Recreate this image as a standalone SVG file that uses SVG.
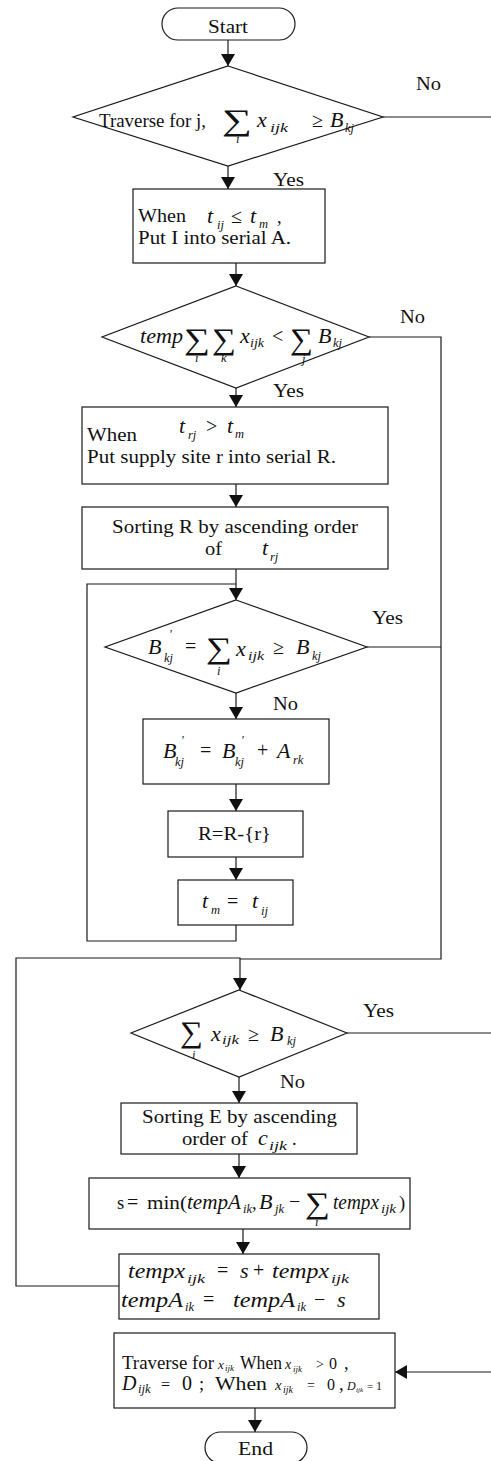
<svg xmlns="http://www.w3.org/2000/svg" width="491" height="1461" viewBox="0 0 491 1461">
  <defs>
    <marker id="ah" viewBox="0 0 12 14" refX="12" refY="7" markerWidth="12" markerHeight="14" markerUnits="userSpaceOnUse" orient="auto">
      <path d="M0,0 L12,7 L0,14 z" fill="#111"/>
    </marker>
    <style>
      .box{fill:#fff;stroke:#1a1a1a;stroke-width:1.2}
      .ln{fill:none;stroke:#1a1a1a;stroke-width:1.2}
      text{font-family:"Liberation Serif","Times New Roman",serif;fill:#111}
      .t{font-size:18.5px}
      .m{font-size:22px;font-style:italic}
      .s{font-size:12.5px;font-style:italic}
      .op{font-size:20px}
      .sum{font-size:30px}
    </style>
  </defs>
  <rect width="491" height="1461" fill="#fff"/>

  <!-- connectors -->
  <g id="connectors" class="ln">
    <line x1="228" y1="40" x2="228" y2="66" marker-end="url(#ah)"/>
    <line x1="383" y1="117" x2="491" y2="117"/>
    <line x1="228" y1="166" x2="228" y2="189" marker-end="url(#ah)"/>
    <line x1="236" y1="263" x2="236" y2="286" marker-end="url(#ah)"/>
    <polyline points="369,337 441,337 441,959 240,959"/>
    <line x1="236" y1="388" x2="236" y2="407" marker-end="url(#ah)"/>
    <line x1="236" y1="484" x2="236" y2="507" marker-end="url(#ah)"/>
    <line x1="236" y1="569" x2="236" y2="600" marker-end="url(#ah)"/>
    <polyline points="236,925 236,941 87,941 87,584 236,584"/>
    <line x1="367" y1="647" x2="441" y2="647"/>
    <line x1="236" y1="693" x2="236" y2="719" marker-end="url(#ah)"/>
    <line x1="236" y1="784" x2="236" y2="811" marker-end="url(#ah)"/>
    <line x1="236" y1="857" x2="236" y2="880" marker-end="url(#ah)"/>
    <polyline points="119,1286 16,1286 16,958 240,958 240,990" marker-end="url(#ah)"/>
    <line x1="347" y1="1033" x2="491" y2="1033"/>
    <line x1="239" y1="1077" x2="239" y2="1103" marker-end="url(#ah)"/>
    <line x1="239" y1="1154" x2="239" y2="1178" marker-end="url(#ah)"/>
    <line x1="243" y1="1229" x2="243" y2="1254" marker-end="url(#ah)"/>
    <line x1="491" y1="1372" x2="395" y2="1372" marker-end="url(#ah)"/>
    <line x1="255" y1="1408" x2="255" y2="1432" marker-end="url(#ah)"/>
    <g stroke="none">
      <text class="t" x="416" y="90" textLength="25" lengthAdjust="spacingAndGlyphs">No</text>
      <text class="t" x="273" y="186" textLength="31" lengthAdjust="spacingAndGlyphs">Yes</text>
      <text class="t" x="400" y="323" textLength="25" lengthAdjust="spacingAndGlyphs">No</text>
      <text class="t" x="273" y="397" textLength="31" lengthAdjust="spacingAndGlyphs">Yes</text>
      <text class="t" x="372" y="624" textLength="31" lengthAdjust="spacingAndGlyphs">Yes</text>
      <text class="t" x="273" y="710" textLength="25" lengthAdjust="spacingAndGlyphs">No</text>
      <text class="t" x="363" y="1017" textLength="31" lengthAdjust="spacingAndGlyphs">Yes</text>
      <text class="t" x="280" y="1088" textLength="25" lengthAdjust="spacingAndGlyphs">No</text>
    </g>
  </g>

  <!-- start -->
  <g id="start">
    <rect class="box" x="162" y="8" width="133" height="32" rx="16"/>
    <text class="t" x="208" y="33" textLength="40" lengthAdjust="spacingAndGlyphs">Start</text>
  </g>

  <!-- demand check for every j -->
  <g id="check_demand">
    <polygon class="box" points="228,66 383,117 228,166 73,117"/>
    <text class="t" x="99" y="127" textLength="107" lengthAdjust="spacingAndGlyphs">Traverse for j,</text>
    <text class="sum" x="222" y="130" textLength="30" lengthAdjust="spacingAndGlyphs">∑</text>
    <text class="s" x="236" y="143">i</text>
    <text class="m" x="257" y="127">x</text>
    <text class="s" x="270" y="132" textLength="18" lengthAdjust="spacingAndGlyphs">ijk</text>
    <text class="op" x="312" y="127">≥</text>
    <text class="m" x="330" y="127">B</text>
    <text class="s" x="345" y="132">kj</text>
  </g>

  <!-- serial A -->
  <g id="serial_a">
    <rect class="box" x="133" y="189" width="192" height="74"/>
    <text class="t" x="138" y="222" textLength="48" lengthAdjust="spacingAndGlyphs">When</text>
    <text class="m" x="207" y="223">t</text>
    <text class="s" x="217" y="229">ij</text>
    <text class="op" x="231" y="223">≤</text>
    <text class="m" x="250" y="223">t</text>
    <text class="s" x="259" y="228">m</text>
    <text class="t" x="277" y="223">,</text>
    <text class="t" x="138" y="244" textLength="153" lengthAdjust="spacingAndGlyphs">Put I into serial A.</text>
  </g>

  <!-- total supply check -->
  <g id="check_total">
    <polygon class="box" points="236,286 369,337 236,388 102,337"/>
    <text class="m" x="140" y="343" textLength="43" lengthAdjust="spacingAndGlyphs">temp</text>
    <text class="sum" x="184" y="349" textLength="26" lengthAdjust="spacingAndGlyphs">∑</text>
    <text class="s" x="195" y="362">i</text>
    <text class="sum" x="212" y="349" textLength="24" lengthAdjust="spacingAndGlyphs">∑</text>
    <text class="s" x="221" y="362">k</text>
    <text class="m" x="240" y="343">x</text>
    <text class="s" x="250" y="347" textLength="14" lengthAdjust="spacingAndGlyphs">ijk</text>
    <text class="op" x="272" y="343">&lt;</text>
    <text class="sum" x="290" y="349" textLength="23" lengthAdjust="spacingAndGlyphs">∑</text>
    <text class="s" x="302" y="363">j</text>
    <text class="m" x="318" y="343">B</text>
    <text class="s" x="333" y="347">kj</text>
  </g>

  <!-- serial R -->
  <g id="serial_r">
    <rect class="box" x="82" y="407" width="306" height="77"/>
    <text class="t" x="87" y="441" textLength="50" lengthAdjust="spacingAndGlyphs">When</text>
    <text class="m" x="179" y="433">t</text>
    <text class="s" x="188" y="439">rj</text>
    <text class="op" x="206" y="433">&gt;</text>
    <text class="m" x="227" y="433">t</text>
    <text class="s" x="235" y="438">m</text>
    <text class="t" x="87" y="463" textLength="249" lengthAdjust="spacingAndGlyphs">Put supply site r into serial R.</text>
  </g>

  <!-- sort R -->
  <g id="sort_r">
    <rect class="box" x="82" y="507" width="306" height="62"/>
    <text class="t" x="112" y="533" textLength="246" lengthAdjust="spacingAndGlyphs">Sorting R by ascending order</text>
    <text class="t" x="205" y="555" textLength="17" lengthAdjust="spacingAndGlyphs">of</text>
    <text class="m" x="262" y="555">t</text>
    <text class="s" x="270" y="561">rj</text>
  </g>

  <!-- B' check -->
  <g id="check_b">
    <polygon class="box" points="236,600 367,647 236,693 105,647"/>
    <text class="m" x="148" y="654">B</text>
    <text class="s" x="169" y="638">'</text>
    <text class="s" x="164" y="662">kj</text>
    <text class="op" x="185" y="653">=</text>
    <text class="sum" x="206" y="658" textLength="26" lengthAdjust="spacingAndGlyphs">∑</text>
    <text class="s" x="217" y="675">i</text>
    <text class="m" x="236" y="656">x</text>
    <text class="s" x="248" y="660" textLength="16" lengthAdjust="spacingAndGlyphs">ijk</text>
    <text class="op" x="273" y="654">≥</text>
    <text class="m" x="296" y="654">B</text>
    <text class="s" x="312" y="660">kj</text>
  </g>

  <!-- B' update -->
  <g id="update_b">
    <rect class="box" x="143" y="719" width="186" height="65"/>
    <text class="m" x="163" y="758">B</text>
    <text class="s" x="181" y="744">'</text>
    <text class="s" x="175" y="766">kj</text>
    <text class="op" x="200" y="757">=</text>
    <text class="m" x="222" y="758">B</text>
    <text class="s" x="241" y="744">'</text>
    <text class="s" x="235" y="766">kj</text>
    <text class="op" x="257" y="757">+</text>
    <text class="m" x="277" y="758">A</text>
    <text class="s" x="293" y="764">rk</text>
  </g>

  <!-- remove r -->
  <g id="remove_r">
    <rect class="box" x="168" y="811" width="135" height="46"/>
    <text class="t" x="198" y="840" textLength="73" lengthAdjust="spacingAndGlyphs">R=R-{r}</text>
  </g>

  <!-- t_m update -->
  <g id="set_tm">
    <rect class="box" x="178" y="880" width="115" height="45"/>
    <text class="m" x="202" y="908">t</text>
    <text class="s" x="211" y="914">m</text>
    <text class="op" x="227" y="908">=</text>
    <text class="m" x="252" y="908">t</text>
    <text class="s" x="261" y="915">ij</text>
  </g>

  <!-- supply check -->
  <g id="check_supply">
    <polygon class="box" points="239,990 347,1033 239,1077 131,1033"/>
    <text class="sum" x="180" y="1042" textLength="23" lengthAdjust="spacingAndGlyphs">∑</text>
    <text class="s" x="192" y="1059">i</text>
    <text class="m" x="211" y="1041">x</text>
    <text class="s" x="222" y="1044" textLength="17" lengthAdjust="spacingAndGlyphs">ijk</text>
    <text class="op" x="248" y="1041">≥</text>
    <text class="m" x="270" y="1041">B</text>
    <text class="s" x="287" y="1045">kj</text>
  </g>

  <!-- sort E -->
  <g id="sort_e">
    <rect class="box" x="121" y="1103" width="236" height="51"/>
    <text class="t" x="142" y="1123" textLength="195" lengthAdjust="spacingAndGlyphs">Sorting E by ascending</text>
    <text class="t" x="182" y="1145" textLength="66" lengthAdjust="spacingAndGlyphs">order of</text>
    <text class="m" x="258" y="1145">c</text>
    <text class="s" x="269" y="1150" textLength="18" lengthAdjust="spacingAndGlyphs">ijk</text>
    <text class="t" x="292" y="1145">.</text>
  </g>

  <!-- s calculation -->
  <g id="calc_s">
    <rect class="box" x="89" y="1178" width="321" height="51"/>
    <text class="t" x="117" y="1209">s</text>
    <text class="op" x="127" y="1209">=</text>
    <text class="t" x="147" y="1209" textLength="40" lengthAdjust="spacingAndGlyphs">min(</text>
    <text class="m" x="187" y="1209" textLength="54" lengthAdjust="spacingAndGlyphs">tempA</text>
    <text class="s" x="243" y="1213">ik</text>
    <text class="t" x="252" y="1209">,</text>
    <text class="m" x="259" y="1209">B</text>
    <text class="s" x="275" y="1213">jk</text>
    <text class="op" x="289" y="1208">−</text>
    <text class="sum" x="305" y="1213" textLength="25" lengthAdjust="spacingAndGlyphs">∑</text>
    <text class="s" x="315" y="1226">i</text>
    <text class="m" x="333" y="1209" textLength="46" lengthAdjust="spacingAndGlyphs">tempx</text>
    <text class="s" x="381" y="1213" textLength="15" lengthAdjust="spacingAndGlyphs">ijk</text>
    <text class="t" x="399" y="1209">)</text>
  </g>

  <!-- temp updates -->
  <g id="update_temp">
    <rect class="box" x="119" y="1254" width="260" height="65"/>
    <text class="m" x="128" y="1278" textLength="57" lengthAdjust="spacingAndGlyphs">tempx</text>
    <text class="s" x="187" y="1283" textLength="18" lengthAdjust="spacingAndGlyphs">ijk</text>
    <text class="op" x="217" y="1277">=</text>
    <text class="m" x="240" y="1278">s</text>
    <text class="op" x="253" y="1277">+</text>
    <text class="m" x="272" y="1278" textLength="57" lengthAdjust="spacingAndGlyphs">tempx</text>
    <text class="s" x="331" y="1283" textLength="18" lengthAdjust="spacingAndGlyphs">ijk</text>
    <text class="m" x="121" y="1307" textLength="62" lengthAdjust="spacingAndGlyphs">tempA</text>
    <text class="s" x="185" y="1311">ik</text>
    <text class="op" x="203" y="1306">=</text>
    <text class="m" x="233" y="1307" textLength="62" lengthAdjust="spacingAndGlyphs">tempA</text>
    <text class="s" x="297" y="1311">ik</text>
    <text class="op" x="314" y="1306">−</text>
    <text class="m" x="337" y="1307">s</text>
  </g>

  <!-- D assignment -->
  <g id="assign_d">
    <rect class="box" x="114" y="1333" width="281" height="75"/>
    <text class="t" x="122" y="1369" textLength="92" lengthAdjust="spacingAndGlyphs">Traverse for</text>
    <text style="font-size:13px;font-style:italic" x="218" y="1369">x</text>
    <text style="font-size:9px;font-style:italic" x="225" y="1371">ijk</text>
    <text class="t" x="240" y="1369" textLength="42" lengthAdjust="spacingAndGlyphs">When</text>
    <text style="font-size:14px;font-style:italic" x="285" y="1369">x</text>
    <text style="font-size:9px;font-style:italic" x="293" y="1372">ijk</text>
    <text style="font-size:14px" x="316" y="1369">&gt;</text>
    <text style="font-size:16px" x="329" y="1369">0</text>
    <text class="t" x="344" y="1369">,</text>
    <text style="font-size:20px;font-style:italic" x="122" y="1390">D</text>
    <text class="s" x="138" y="1393">ijk</text>
    <text style="font-size:16px" x="161" y="1390">=</text>
    <text style="font-size:20px" x="182" y="1390">0</text>
    <text class="t" x="199" y="1390">;</text>
    <text class="t" x="215" y="1390" textLength="52" lengthAdjust="spacingAndGlyphs">When</text>
    <text style="font-size:15px;font-style:italic" x="275" y="1390">x</text>
    <text style="font-size:10px;font-style:italic" x="283" y="1393">ijk</text>
    <text style="font-size:14px" x="307" y="1390">=</text>
    <text style="font-size:16px" x="327" y="1390">0</text>
    <text class="t" x="339" y="1390">,</text>
    <text style="font-size:12px;font-style:italic" x="347" y="1390">D</text>
    <text style="font-size:7px;font-style:italic" x="356" y="1392">ijk</text>
    <text style="font-size:11px" x="367" y="1390">=</text>
    <text style="font-size:12px" x="376" y="1390">1</text>
  </g>

  <!-- end -->
  <g id="end">
    <rect class="box" x="205" y="1432" width="102" height="31" rx="15.5"/>
    <text class="t" x="238" y="1455" textLength="35" lengthAdjust="spacingAndGlyphs">End</text>
  </g>
</svg>
